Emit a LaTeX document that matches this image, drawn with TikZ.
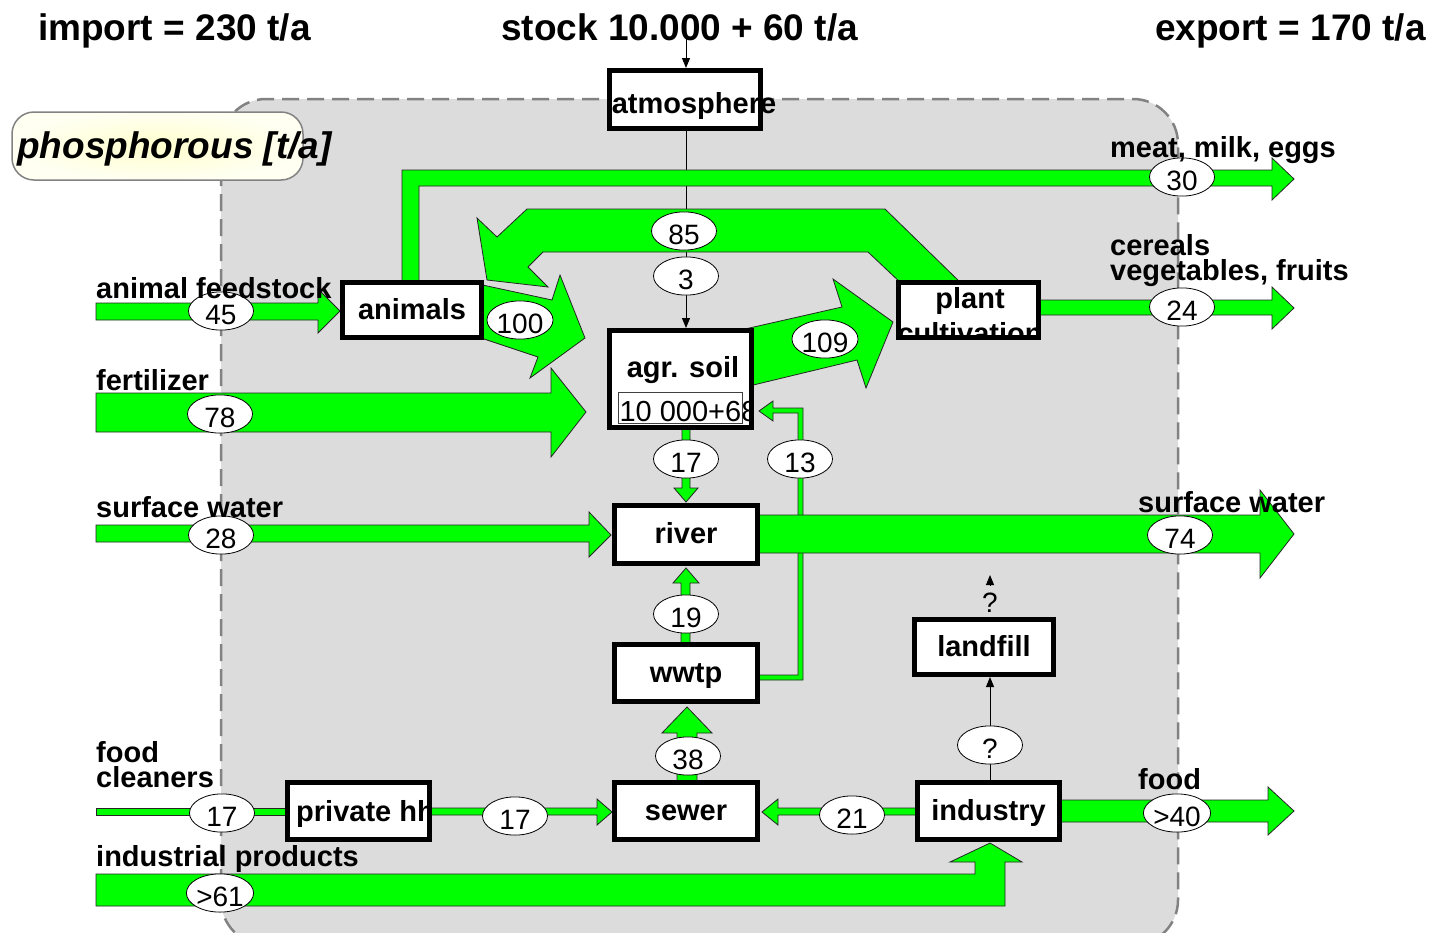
\documentclass[tikz,border=0pt]{standalone}
\usepackage{fontspec}
\setmainfont{Liberation Sans}
\usepackage{xcolor}
\usetikzlibrary{arrows.meta, shapes.geometric}
\pgfdeclarelayer{back}
\pgfdeclarelayer{mid}
\pgfsetlayers{back,mid,main}

\definecolor{flowgreen}{RGB}{0,255,0}
\definecolor{areagray}{RGB}{220,220,220}
\definecolor{rimgray}{RGB}{130,130,130}
\definecolor{notecore}{RGB}{255,255,205}
\definecolor{noterim}{RGB}{255,255,242}

\begin{document}
\begin{tikzpicture}[x=1pt, y=-1pt,
    flow/.style={fill=flowgreen, draw=black!85, line width=0.8pt},
    box/.style={draw, line width=5pt, fill=white, inner sep=0pt, text height=22pt, text depth=4pt, font=\fontsize{29}{35}\selectfont\bfseries},
    boxtext/.style={draw=none, fill=none, inner sep=0pt, anchor=base, font=\fontsize{29}{35}\selectfont\bfseries},
    val/.style={ellipse, draw, line width=0.8pt, fill=white, minimum width=65pt, minimum height=38pt, inner sep=0pt, text height=27pt, text depth=0pt, font=\fontsize{28}{30}\selectfont},
    sidetext/.style={inner sep=0pt, anchor=base west, font=\fontsize{29}{35}\selectfont\bfseries},
    headline/.style={inner sep=0pt, anchor=base west, font=\fontsize{37}{44}\selectfont\bfseries},
    wire/.style={line width=1pt, -{Triangle[length=10pt,width=8pt]}}]

        \useasboundingbox (0,0) rectangle (1434,932);

        % System border
        \begin{pgfonlayer}{back}
        \draw[fill=areagray, draw=rimgray, line width=2.5pt, dash pattern=on 17pt off 8pt, rounded corners=45pt] (221,99) rectangle (1178,945);
        \end{pgfonlayer}

        % Headlines
        \node[headline] (timport) at (38,40) {import = 230 t/a};
        \node[headline] (tstock) at (501,40) {stock 10.000 + 60 t/a};
        \node[headline] (texport) at (1155,40) {export = 170 t/a};

        \shadedraw[inner color=notecore, outer color=noterim, draw=rimgray, line width=1.5pt, rounded corners=22pt] (12,112) rectangle (303,180);
        \node[headline, font=\fontsize{37}{44}\selectfont\bfseries\itshape] (tphos) at (17,158) {phosphorous [t/a]};

        % Processes (path pictures are placed from the box text origin)
        \node[box, minimum width=151pt, minimum height=58pt] (atm) at (685,99.5) {};
        \node[boxtext] (atmtext) at (694,113) {atmosphere};
        \node[box, minimum width=139pt, minimum height=55pt] (animals) at (412,310) {animals};
        \node[box, minimum width=140pt, minimum height=55pt, path picture={
            \node[boxtext] (planttext) at (1.5,-11) {plant};
            \node[boxtext] (culttext) at (1.5,24) {cultivation};}] (plant) at (968.5,310) {};
        \node[box, minimum width=142pt, minimum height=97pt, path picture={
            \node[boxtext] (soiltext) at (2.5,-11) {agr. soil};
            \draw[line width=1pt, black!75] (-62.5,4) rectangle (61.5,35);
            \node[boxtext, anchor=base west, font=\fontsize{29}{35}\selectfont] (stocktext) at (-65.5,33) {10 000+68};}] (soil) at (680.5,379) {};
        \node[box, minimum width=143pt, minimum height=58pt] (river) at (686,534.5) {river};
        \node[box, minimum width=143pt, minimum height=57pt] (wwtp) at (686,673) {wwtp};
        \node[box, minimum width=143pt, minimum height=57pt] (sewer) at (686,811) {sewer};
        \node[box, minimum width=142pt, minimum height=57pt] (industry) at (988.5,811) {industry};
        \node[box, minimum width=139pt, minimum height=55pt] (landfill) at (984,647) {landfill};
        \node[box, minimum width=142pt, minimum height=57pt, path picture={
            \node[boxtext, anchor=base west] (hhtext) at (-66.5,1) {private hh};}] (hh) at (358.5,811) {};

        % Flow values
        \node[val] (e45) at (221,311) {45};
        \node[val] (e78) at (220,414) {78};
        \node[val] (e28) at (221,535) {28};
        \node[val] (e17in) at (222,813) {17};
        \node[val] (e61) at (220,893) {>61};
        \node[val] (e100) at (520,320) {100};
        \node[val] (e85) at (684,231) {85};
        \node[val] (e3) at (686,276) {3};
        \node[val] (e109) at (825,339) {109};
        \node[val] (e17soil) at (686,459) {17};
        \node[val] (e13) at (800,459) {13};
        \node[val] (e19) at (686,614) {19};
        \node[val] (e38) at (688,756) {38};
        \node[val] (e17hh) at (515,816) {17};
        \node[val] (e21) at (852,815) {21};
        \node[val] (eq) at (990,745) {?};
        \node[val] (e30) at (1182,177) {30};
        \node[val] (e24) at (1182,307) {24};
        \node[val] (e74) at (1180,535) {74};
        \node[val] (e40) at (1177,813) {>40};
        \node[inner sep=0pt, font=\fontsize{28}{30}\selectfont] (qland) at (990,603) {?};

        % Goods in and out
        \node[sidetext] (lfeed) at (96,298) {animal feedstock};
        \node[sidetext] (lfert) at (96,390) {fertilizer};
        \node[sidetext] (lsurfin) at (96,517) {surface water};
        \node[sidetext] (lfood) at (96,762) {food};
        \node[sidetext] (lclean) at (96,787) {cleaners};
        \node[sidetext] (lind) at (96,866) {industrial products};
        \node[sidetext] (lmeat) at (1110,157) {meat, milk, eggs};
        \node[sidetext] (lcer) at (1110,255) {cereals};
        \node[sidetext] (lveg) at (1110,280) {vegetables, fruits};
        \node[sidetext] (lsurfout) at (1138,512) {surface water};
        \node[sidetext] (lfoodout) at (1138,789) {food};

        % Thin arrows
        \begin{pgfonlayer}{back}
        \coordinate (src) at (686,37);
        \coordinate (qtop) at (990,575);
        \draw[wire] (src) -- (src |- atm.north);
        \draw[wire] (src |- atm.south) -- (src |- soil.north);
        \draw[wire] (eq |- industry.north) -- (eq |- landfill.south);
        \draw[wire, shorten <=8pt] (qland.north) -- (qtop);
        \end{pgfonlayer}

        % Green flows
        \begin{pgfonlayer}{mid}
        \filldraw[flow] (96,303) -- (318,303) -- (318,289) -- (340,311) -- (318,333) -- (318,320) -- (96,320) -- cycle;
        \filldraw[flow] (96,393) -- (551,393) -- (551,368) -- (586,412) -- (551,457) -- (551,432) -- (96,432) -- cycle;
        \filldraw[flow] (96,525) -- (589,525) -- (589,512) -- (611,535) -- (589,557) -- (589,542) -- (96,542) -- cycle;
        \filldraw[flow] (96,808) -- (300,808) -- (300,815) -- (96,815) -- cycle;
        \filldraw[flow] (96,874) -- (975,874) -- (975,862) -- (950,862) -- (990,843) -- (1022,862) -- (1005,862) -- (1005,906) -- (96,906) -- cycle;

        \filldraw[flow] (402,290) -- (402,170) -- (1272,170) -- (1272,158) -- (1294,179) -- (1272,200) -- (1272,186) -- (419,186) -- (419,290) -- cycle;
        \filldraw[flow] (963,285) -- (885,209) -- (527,209) -- (497,237) -- (477,218) -- (487,280) -- (548,287) -- (528,267) -- (543,252) -- (868,252) -- (903,285) -- cycle;
        \filldraw[flow] (478,284) -- (552,300) -- (560,275) -- (585,338) -- (530,378) -- (538,357) -- (478,337) -- cycle;
        \filldraw[flow] (745,329) -- (842,307) -- (833,279) -- (893,322) -- (866,388) -- (857,360) -- (745,387) -- cycle;
        \filldraw[flow] (1030,300) -- (1272,300) -- (1272,287) -- (1294,308) -- (1272,329) -- (1272,315) -- (1030,315) -- cycle;

        \filldraw[flow] (682,420) -- (682,488) -- (674,488) -- (686,502) -- (698,488) -- (690,488) -- (690,420) -- cycle;
        \filldraw[flow] (750,675) -- (798,675) -- (798,413) -- (773,413) -- (773,421) -- (759,411) -- (773,401) -- (773,408) -- (803,408) -- (803,680) -- (750,680) -- cycle;
        \filldraw[flow] (750,515) -- (1260,515) -- (1260,490) -- (1294,534) -- (1260,578) -- (1260,553) -- (750,553) -- cycle;
        \filldraw[flow] (681,650) -- (681,583) -- (673,583) -- (686,568) -- (699,583) -- (690,583) -- (690,650) -- cycle;
        \filldraw[flow] (677,790) -- (677,733) -- (662,733) -- (687,707) -- (712,733) -- (697,733) -- (697,790) -- cycle;

        \filldraw[flow] (420,808) -- (597,808) -- (597,799) -- (612,812) -- (597,825) -- (597,815) -- (420,815) -- cycle;
        \filldraw[flow] (925,808) -- (778,808) -- (778,799) -- (762,812) -- (778,825) -- (778,815) -- (925,815) -- cycle;
        \filldraw[flow] (1050,800) -- (1268,800) -- (1268,787) -- (1294,811) -- (1268,835) -- (1268,822) -- (1050,822) -- cycle;
        \end{pgfonlayer}
\end{tikzpicture}
\end{document}
